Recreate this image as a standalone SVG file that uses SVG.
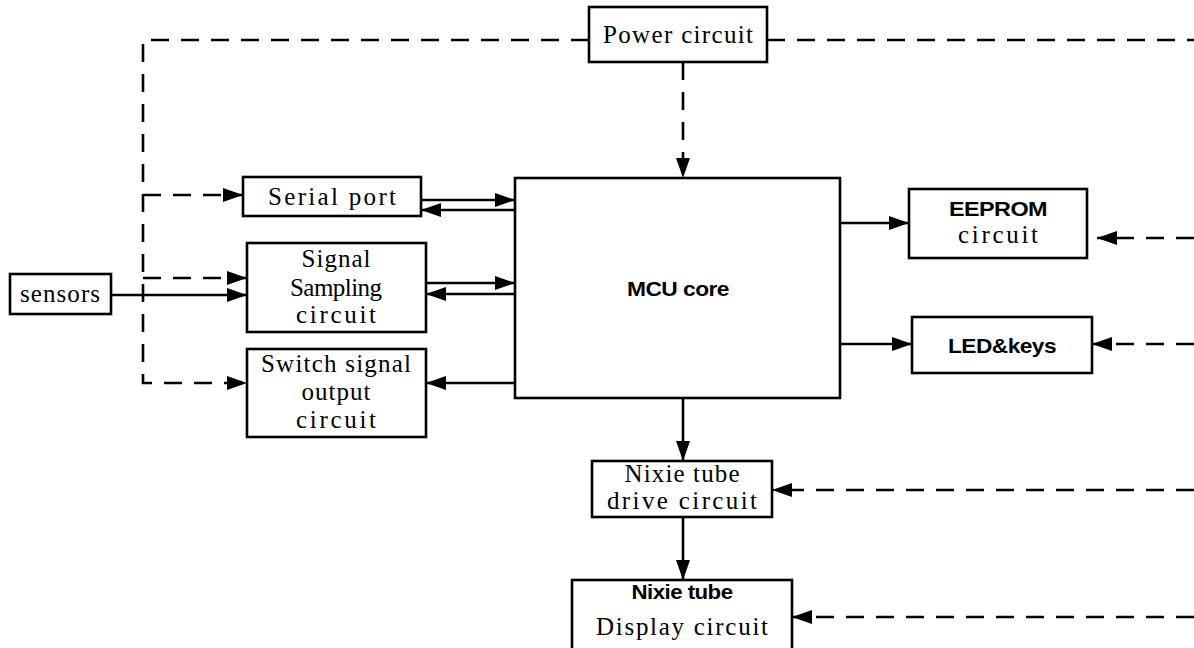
<svg xmlns="http://www.w3.org/2000/svg" width="1194" height="648" viewBox="0 0 1194 648">
<defs>
<marker id="ah" viewBox="0 0 20 14" refX="20" refY="7" markerWidth="20" markerHeight="14" markerUnits="userSpaceOnUse" orient="auto">
<path d="M0 0 L20 7 L0 14 z" fill="#000"/>
</marker>
<style>
.box{fill:#fff;stroke:#000;stroke-width:2.6}
.ln{fill:none;stroke:#000;stroke-width:2.6}
.da{fill:none;stroke:#000;stroke-width:2.6;stroke-dasharray:18 12}
.arr{marker-end:url(#ah)}
.sf{font-family:"Liberation Serif","Times New Roman",serif;font-size:25px;text-anchor:middle;fill:#000}
.ss{font-family:"Liberation Sans",Arial,sans-serif;font-size:21px;font-weight:bold;text-anchor:middle;fill:#000;letter-spacing:-0.5px}
</style>
</defs>
<rect width="1194" height="648" fill="#fff"/>
<g id="connectors">
<path class="da arr" d="M589 40 H143 V383 H247"/>
<path class="da arr" d="M143 195 H243"/>
<path class="da arr" d="M143 278 H247"/>
<path class="da" d="M767 40 H1194"/>
<path class="da arr" d="M683 62 V178"/>
<path class="da arr" d="M1194 238 H1097"/>
<path class="da arr" d="M1194 344 H1092"/>
<path class="da arr" d="M1194 490 H772"/>
<path class="da arr" d="M1194 617 H792"/>
<path class="ln arr" d="M421 200 H515"/>
<path class="ln arr" d="M515 210 H421"/>
<path class="ln arr" d="M426 283 H515"/>
<path class="ln arr" d="M515 294 H426"/>
<path class="ln arr" d="M515 383 H426"/>
<path class="ln arr" d="M111 295 H247"/>
<path class="ln arr" d="M840 223 H909"/>
<path class="ln arr" d="M840 344 H912"/>
<path class="ln arr" d="M683 398 V461"/>
<path class="ln arr" d="M683 517 V580"/>
</g>
<g id="power">
<rect class="box" x="589" y="7" width="178" height="55"/>
<text class="sf" x="678" y="43" textLength="150">Power circuit</text>
</g>
<g id="mcu">
<rect class="box" x="515" y="178" width="325" height="220"/>
<text class="ss" x="678" y="296" textLength="102" lengthAdjust="spacingAndGlyphs">MCU core</text>
</g>
<g id="serial">
<rect class="box" x="243" y="177" width="178" height="39"/>
<text class="sf" x="332" y="205" textLength="128">Serial port</text>
</g>
<g id="sampling">
<rect class="box" x="247" y="243" width="179" height="89"/>
<text class="sf" x="336" y="267" textLength="69">Signal</text>
<text class="sf" x="336" y="296" textLength="92">Sampling</text>
<text class="sf" x="336" y="323" textLength="80">circuit</text>
</g>
<g id="switch">
<rect class="box" x="247" y="349" width="179" height="88"/>
<text class="sf" x="336" y="372" textLength="150">Switch signal</text>
<text class="sf" x="336" y="400" textLength="69">output</text>
<text class="sf" x="336" y="428" textLength="80">circuit</text>
</g>
<g id="sensors">
<rect class="box" x="10" y="274" width="101" height="40"/>
<text class="sf" x="60" y="302" textLength="80">sensors</text>
</g>
<g id="eeprom">
<rect class="box" x="909" y="189" width="178" height="69"/>
<text class="ss" x="998" y="216" textLength="98" lengthAdjust="spacingAndGlyphs">EEPROM</text>
<text class="sf" x="998" y="243" textLength="80">circuit</text>
</g>
<g id="led">
<rect class="box" x="912" y="317" width="180" height="56"/>
<text class="ss" x="1002" y="353" textLength="108" lengthAdjust="spacingAndGlyphs">LED&amp;keys</text>
</g>
<g id="drive">
<rect class="box" x="592" y="461" width="180" height="56"/>
<text class="sf" x="682" y="482" textLength="115">Nixie tube</text>
<text class="sf" x="682" y="509" textLength="150">drive circuit</text>
</g>
<g id="display">
<rect class="box" x="572" y="580" width="220" height="80"/>
<text class="ss" x="682" y="599" textLength="101" lengthAdjust="spacingAndGlyphs">Nixie tube</text>
<text class="sf" x="682" y="635" textLength="172">Display circuit</text>
</g>
</svg>
